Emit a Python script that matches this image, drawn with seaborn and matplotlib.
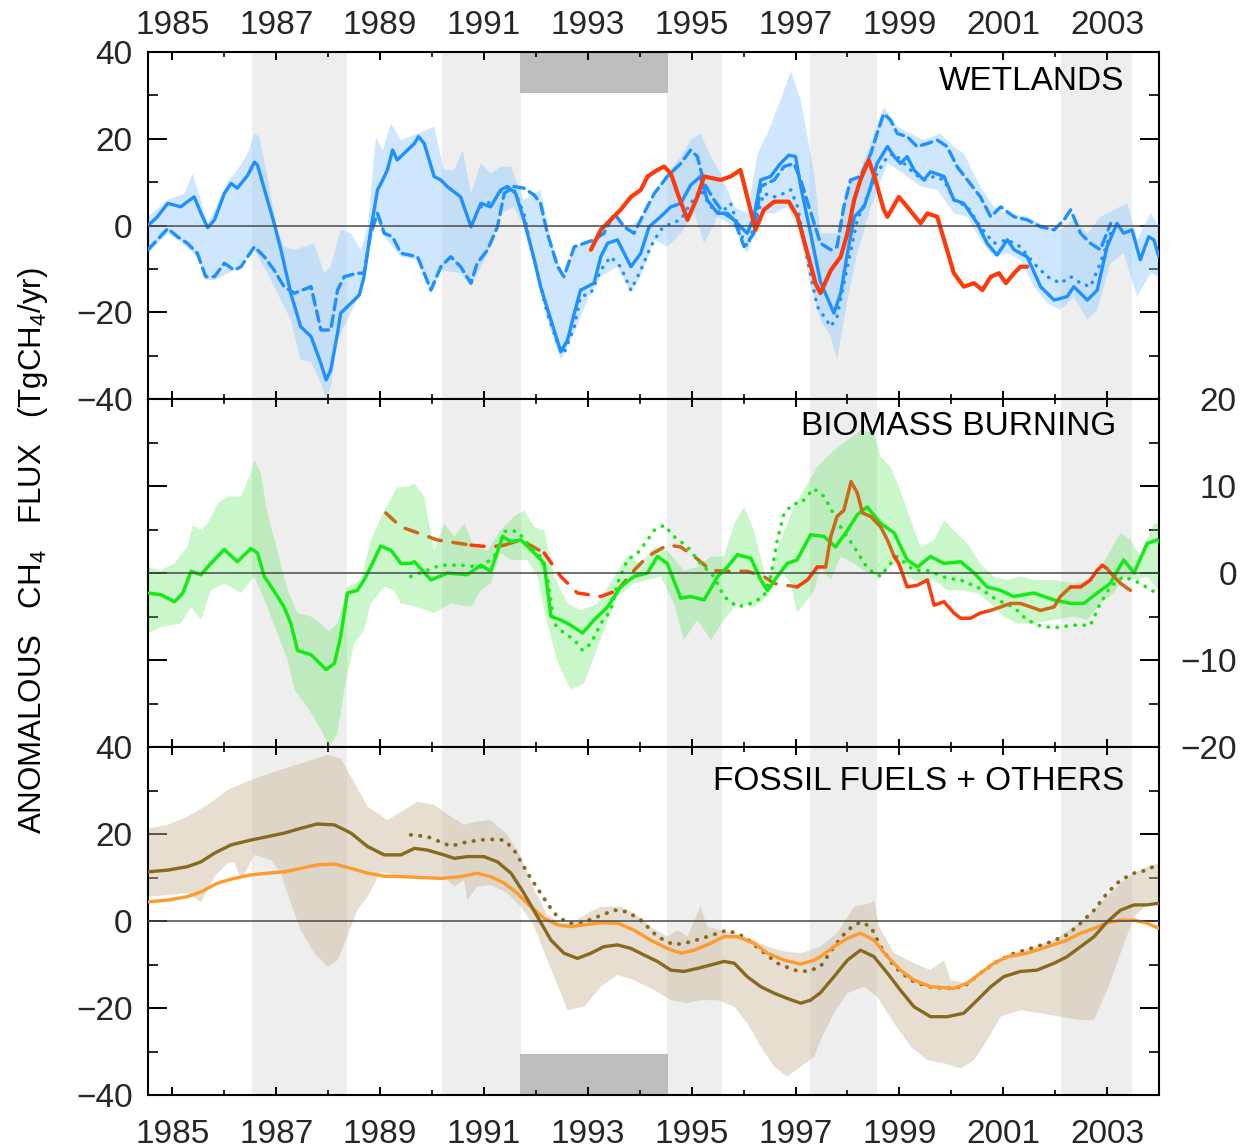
import numpy as np
import pandas as pd
import matplotlib
matplotlib.use("Agg")
import matplotlib.pyplot as plt
from matplotlib.ticker import FixedLocator, FuncFormatter
import seaborn as sns

# ---------------- WETLANDS (TgCH4/yr) ----------------
wet_solid_x = [1984.53, 1984.71, 1984.91, 1985.04, 1985.16, 1985.29, 1985.42, 1985.55, 1985.68, 1985.81,
               1986.00, 1986.13, 1986.25, 1986.45, 1986.58, 1986.64, 1986.83, 1986.96, 1987.09, 1987.28,
               1987.47, 1987.67, 1987.86, 1987.96, 1988.05, 1988.18, 1988.24, 1988.44, 1988.60, 1988.69,
               1988.82, 1988.95, 1989.05, 1989.14, 1989.24, 1989.33, 1989.46, 1989.66, 1989.74, 1989.85,
               1990.04, 1990.17, 1990.30, 1990.55, 1990.75, 1990.94, 1991.13, 1991.32, 1991.45, 1991.61,
               1991.77, 1991.97, 1992.09, 1992.29, 1992.48, 1992.61, 1992.74, 1992.86, 1992.99, 1993.12,
               1993.25, 1993.38, 1993.57, 1993.83, 1994.02, 1994.18, 1994.40, 1994.60, 1994.79, 1994.98,
               1995.17, 1995.30, 1995.50, 1995.69, 1995.88, 1996.07, 1996.20, 1996.33, 1996.52, 1996.71,
               1996.87, 1997.00, 1997.10, 1997.29, 1997.48, 1997.74, 1997.87, 1998.00, 1998.13, 1998.32,
               1998.45, 1998.57, 1998.77, 1998.90, 1999.02, 1999.15, 1999.28, 1999.47, 1999.60, 1999.86,
               2000.05, 2000.24, 2000.50, 2000.69, 2000.88, 2001.08, 2001.21, 2001.46, 2001.72, 2001.98,
               2002.23, 2002.36, 2002.62, 2002.81, 2003.00, 2003.19, 2003.32, 2003.48, 2003.64, 2003.80,
               2003.90, 2004.00]
wet_solid_y = [0.0, 2.0, 5.1, 4.7, 4.3, 5.5, 6.6, 2.8, -0.5, 1.3,
               7.4, 9.7, 8.6, 11.6, 14.6, 13.9, 5.9, 0.5, -5.6, -15.6,
               -23.3, -25.6, -31.8, -35.6, -33.3, -24.8, -20.2, -17.9, -16.0, -11.8,
               -1.0, 8.2, 10.5, 12.8, 17.4, 15.1, 16.6, 18.9, 20.5, 18.9,
               11.3, 10.5, 8.9, 6.6, -0.3, 5.1, 4.3, 8.2, 9.0, 7.4,
               1.3, -7.9, -14.1, -21.8, -29.1, -26.4, -20.2, -14.9, -14.1, -13.3,
               -7.2, -4.1, -3.3, -9.5, -6.4, -0.3, 2.0, 4.3, 5.1, 9.3,
               11.3, 5.9, 2.8, 2.8, 0.5, -1.8, 2.0, 10.5, 11.3, 14.3,
               16.2, 15.9, 9.0, -1.8, -13.0, -20.2, -15.6, -6.4, 2.0, 4.3,
               9.0, 14.3, 18.2, 15.9, 14.3, 15.9, 12.8, 10.5, 12.4, 11.3,
               5.9, 5.1, 0.5, -4.1, -6.8, -3.3, -5.6, -7.2, -14.1, -17.2,
               -16.4, -14.1, -17.2, -14.9, -4.9, 0.5, -1.8, -1.0, -7.9, -2.6,
               -3.3, -7.2]

wet_dash_x = [1984.53, 1984.71, 1984.91, 1985.10, 1985.29, 1985.48, 1985.64, 1985.81, 1986.00, 1986.19,
              1986.32, 1986.58, 1986.77, 1986.96, 1987.15, 1987.35, 1987.67, 1987.86, 1988.05, 1988.18,
              1988.31, 1988.56, 1988.69, 1988.82, 1988.95, 1989.08, 1989.24, 1989.40, 1989.72, 1989.98,
              1990.17, 1990.36, 1990.55, 1990.75, 1990.87, 1991.07, 1991.26, 1991.39, 1991.58, 1991.77,
              1991.97, 1992.09, 1992.22, 1992.42, 1992.54, 1992.74, 1992.93, 1993.12, 1993.31, 1993.51,
              1993.70, 1993.89, 1994.08, 1994.28, 1994.53, 1994.79, 1994.98, 1995.11, 1995.24, 1995.43,
              1995.62, 1995.82, 1996.01, 1996.20, 1996.33, 1996.59, 1996.78, 1996.97, 1997.10, 1997.26,
              1997.48, 1997.68, 1997.80, 1997.93, 1998.06, 1998.25, 1998.45, 1998.57, 1998.70, 1998.83,
              1998.96, 1999.15, 1999.34, 1999.54, 1999.73, 1999.92, 2000.11, 2000.31, 2000.56, 2000.76,
              2000.95, 2001.21, 2001.46, 2001.72, 2001.98, 2002.17, 2002.30, 2002.49, 2002.68, 2002.87,
              2003.07]
wet_dash_y = [-5.6, -3.3, -0.7, -2.6, -4.1, -6.4, -11.8, -11.8, -8.7, -10.3,
              -9.5, -4.9, -7.2, -10.3, -14.1, -15.6, -14.1, -24.1, -24.1, -14.9,
              -11.8, -11.0, -11.0, -1.8, 2.8, -1.8, -2.6, -6.4, -7.2, -14.9,
              -9.5, -7.2, -9.5, -13.3, -8.7, -5.6, -0.3, 7.4, 9.0, 8.6,
              7.0, 5.1, -1.8, -9.5, -11.8, -4.9, -4.1, -3.3, -1.8, 2.8,
              -0.3, -1.8, 2.8, 7.4, 11.3, 14.3, 17.4, 15.9, 9.7, 5.9,
              2.8, 1.3, -4.9, -1.8, 9.0, 10.5, 13.6, 14.3, 10.5, 4.3,
              -4.1, -5.6, -4.9, 4.3, 10.5, 11.3, 16.6, 21.2, 25.8, 24.3,
              21.2, 20.5, 18.2, 18.9, 19.7, 18.2, 13.6, 10.5, 6.6, 2.0,
              4.3, 2.0, 1.3, -0.3, -1.0, 1.3, 3.6, -1.8, -4.1, -5.6,
              0.5]

wet_dot_x = [1990.94, 1991.20, 1991.39, 1991.58, 1991.77, 1991.90, 1992.03, 1992.22, 1992.42, 1992.54,
             1992.74, 1992.86, 1993.06, 1993.25, 1993.44, 1993.63, 1993.83, 1994.02, 1994.21, 1994.40,
             1994.60, 1994.79, 1994.98, 1995.17, 1995.37, 1995.56, 1995.75, 1995.94, 1996.07, 1996.20,
             1996.39, 1996.59, 1996.78, 1996.91, 1997.04, 1997.23, 1997.42, 1997.68, 1997.80, 1998.00,
             1998.19, 1998.38, 1998.57, 1998.77, 1998.90, 1999.09, 1999.28, 1999.47, 1999.67, 1999.86,
             2000.05, 2000.31, 2000.56, 2000.82, 2001.08, 2001.33, 2001.59, 2001.85, 2002.10, 2002.30,
             2002.49, 2002.68, 2002.87, 2003.07]
wet_dot_y = [4.3, 5.9, 9.0, 8.2, 2.8, -4.9, -11.0, -20.2, -27.2, -29.5,
             -23.3, -16.4, -15.6, -10.3, -7.2, -9.5, -14.9, -10.3, -4.9, -1.0,
             0.5, 1.3, 5.1, 8.2, 4.3, 2.8, 5.1, -1.8, -4.9, -0.3,
             7.4, 6.6, 7.4, 8.2, 4.3, -7.9, -18.7, -23.3, -21.0, -9.5,
             1.3, 6.6, 12.0, 15.9, 16.6, 14.3, 12.0, 10.5, 11.3, 10.5,
             5.9, 4.3, -0.3, -4.1, -3.3, -4.9, -8.7, -11.8, -13.3, -11.8,
             -13.3, -14.1, -8.7, -1.8]

wet_obs_x = [1993.06, 1993.25, 1993.44, 1993.63, 1993.83, 1994.02, 1994.15, 1994.34, 1994.47, 1994.60,
             1994.73, 1994.92, 1995.11, 1995.24, 1995.56, 1995.75, 1995.94, 1996.07, 1996.23, 1996.39,
             1996.59, 1996.87, 1997.04, 1997.23, 1997.39, 1997.48, 1997.68, 1997.87, 1998.00, 1998.13,
             1998.25, 1998.41, 1998.54, 1998.70, 1998.77, 1998.99, 1999.15, 1999.41, 1999.54, 1999.73,
             1999.86, 2000.05, 2000.24, 2000.44, 2000.60, 2000.76, 2000.92, 2001.05, 2001.21, 2001.33,
             2001.46]
wet_obs_y = [-5.6, -1.0, 1.3, 3.6, 6.6, 8.2, 11.3, 12.8, 13.6, 12.0,
             7.4, 1.3, 6.6, 11.3, 10.5, 11.3, 12.8, 6.6, -1.0, 3.6,
             5.5, 5.5, 2.0, -6.4, -13.5, -15.6, -10.3, -7.2, -1.8, 5.9,
             10.5, 15.1, 10.5, 3.6, 2.0, 6.6, 4.3, 0.5, 2.8, 2.0,
             -3.3, -11.0, -14.1, -13.3, -14.9, -11.8, -11.0, -13.3, -11.0, -9.5,
             -9.5]

wet_hi_x = [1984.53, 1984.91, 1985.23, 1985.39, 1985.55, 1985.68, 1985.87, 1986.06, 1986.25, 1986.45,
            1986.58, 1986.67, 1986.83, 1987.02, 1987.15, 1987.35, 1987.54, 1987.73, 1987.92, 1988.05,
            1988.24, 1988.44, 1988.63, 1988.76, 1988.92, 1989.05, 1989.21, 1989.40, 1989.72, 1990.04,
            1990.23, 1990.43, 1990.59, 1990.75, 1990.94, 1991.13, 1991.32, 1991.52, 1991.77, 1991.97,
            1992.09, 1992.29, 1992.54, 1992.74, 1992.99, 1993.25, 1993.51, 1993.76, 1994.02, 1994.28,
            1994.53, 1994.79, 1994.98, 1995.17, 1995.37, 1995.56, 1995.82, 1996.07, 1996.27, 1996.46,
            1996.71, 1996.91, 1997.10, 1997.36, 1997.48, 1997.80, 1998.00, 1998.19, 1998.45, 1998.70,
            1998.96, 1999.22, 1999.47, 1999.79, 2000.05, 2000.24, 2000.56, 2000.82, 2001.08, 2001.46,
            2001.85, 2002.10, 2002.36, 2002.62, 2002.87, 2003.13, 2003.39, 2003.58, 2003.84, 2004.00]
wet_hi_y = [2.0, 5.9, 7.4, 12.0, 5.9, 0.5, 5.1, 10.1, 12.8, 16.6,
            21.2, 20.5, 11.3, -1.0, -4.9, -5.6, -4.9, -4.1, -11.0, -9.5,
            -1.0, -1.8, -5.6, -0.3, 20.5, 17.4, 23.5, 19.7, 21.2, 22.8,
            12.8, 12.8, 17.4, 7.4, 14.3, 12.0, 13.6, 13.6, 5.9, 7.4,
            8.2, -3.3, -11.8, -4.9, -4.1, -1.8, 2.8, -0.3, 1.3, 7.4,
            12.0, 15.9, 19.7, 21.2, 15.9, 12.0, 4.3, 2.8, 16.6, 21.2,
            28.9, 35.5, 28.9, 12.0, -1.8, -1.8, 9.0, 11.3, 18.9, 27.4,
            22.8, 21.2, 19.7, 21.2, 18.2, 16.6, 9.0, 4.3, 2.8, 2.0,
            -0.3, -1.0, 1.3, -1.8, 2.0, 3.6, 5.1, -3.3, 2.8, -0.3]

wet_lo_x = [1984.53, 1984.91, 1985.10, 1985.48, 1985.64, 1985.81, 1986.19, 1986.58, 1986.83, 1987.09,
            1987.28, 1987.47, 1987.67, 1987.86, 1987.96, 1988.05, 1988.18, 1988.37, 1988.56, 1988.69,
            1988.82, 1988.95, 1989.08, 1989.40, 1989.72, 1989.98, 1990.17, 1990.55, 1990.75, 1991.07,
            1991.32, 1991.58, 1991.77, 1991.97, 1992.22, 1992.48, 1992.74, 1992.99, 1993.25, 1993.57,
            1993.83, 1994.02, 1994.28, 1994.53, 1994.79, 1995.05, 1995.24, 1995.50, 1995.82, 1996.07,
            1996.33, 1996.59, 1996.84, 1997.04, 1997.29, 1997.48, 1997.68, 1997.80, 1998.00, 1998.19,
            1998.45, 1998.77, 1998.90, 1999.15, 1999.41, 1999.73, 2000.05, 2000.31, 2000.56, 2000.82,
            2001.08, 2001.33, 2001.59, 2001.85, 2002.10, 2002.36, 2002.62, 2002.81, 2003.07, 2003.32,
            2003.58, 2003.84, 2004.00]
wet_lo_y = [-6.4, -1.8, -3.3, -7.2, -12.6, -12.6, -10.3, -5.6, -11.0, -17.2,
            -21.8, -31.0, -31.4, -36.4, -39.8, -37.1, -26.4, -21.8, -17.2, -13.3,
            -3.3, 1.3, -2.6, -7.2, -7.9, -15.6, -10.3, -11.0, -14.1, -6.4,
            2.8, 4.3, -0.3, -9.5, -21.8, -31.0, -24.8, -17.2, -11.8, -9.5,
            -15.6, -11.8, -3.3, -4.9, -1.8, 2.8, -4.1, 2.0, -0.3, -6.4,
            2.8, 2.8, 4.3, -0.3, -13.3, -21.8, -25.6, -31.0, -17.2, -6.4,
            4.3, 14.3, 13.5, 11.3, 9.0, 8.2, 2.8, 2.0, -3.3, -7.2,
            -6.4, -7.9, -14.1, -18.0, -19.5, -16.4, -21.8, -19.5, -8.7, -6.4,
            -16.4, -11.0, -11.8]

# ---------------- BIOMASS BURNING (TgCH4/yr) ----------------
bb_solid_x = [1984.53, 1984.78, 1985.04, 1985.20, 1985.36, 1985.55, 1985.74, 1986.00, 1986.25, 1986.51,
              1986.64, 1986.77, 1986.96, 1987.15, 1987.28, 1987.41, 1987.67, 1987.96, 1988.12, 1988.24,
              1988.37, 1988.56, 1988.69, 1988.82, 1989.01, 1989.21, 1989.40, 1989.59, 1989.66, 1989.98,
              1990.30, 1990.68, 1990.94, 1991.13, 1991.36, 1991.52, 1991.71, 1991.97, 1992.16, 1992.29,
              1992.48, 1992.67, 1992.90, 1993.12, 1993.38, 1993.63, 1993.89, 1994.15, 1994.34, 1994.53,
              1994.79, 1994.98, 1995.24, 1995.50, 1995.69, 1995.88, 1996.14, 1996.33, 1996.46, 1996.65,
              1996.84, 1997.03, 1997.29, 1997.55, 1997.77, 1998.00, 1998.19, 1998.38, 1998.64, 1998.90,
              1999.15, 1999.35, 1999.60, 1999.86, 2000.18, 2000.44, 2000.69, 2000.95, 2001.20, 2001.59,
              2001.98, 2002.30, 2002.55, 2002.81, 2003.06, 2003.32, 2003.52, 2003.77, 2003.96, 2004.00]
bb_solid_y = [-2.3, -2.5, -3.3, -2.3, 0.2, -0.2, 1.1, 2.7, 1.3, 2.8,
              2.3, -0.4, -2.1, -3.9, -5.8, -8.9, -9.4, -11.1, -10.4, -7.3,
              -2.3, -2.0, -0.8, 0.7, 3.1, 2.6, 1.1, 1.1, 1.3, -0.8,
              0.0, -0.2, 0.9, 0.2, 4.2, 3.6, 3.8, 2.3, 1.1, -5.0,
              -5.4, -6.0, -6.9, -5.4, -3.9, -1.6, -0.4, 0.0, 1.9, 1.1,
              -2.9, -2.7, -3.1, -0.4, 0.7, 2.1, 1.7, -0.8, -2.0, -0.4,
              1.1, 1.5, 4.4, 4.2, 3.0, 4.9, 6.7, 7.6, 5.7, 4.6,
              1.5, 0.7, 1.9, 1.1, 1.3, 0.0, -1.6, -2.0, -2.7, -2.3,
              -3.1, -3.5, -3.5, -2.3, -1.2, 1.5, 0.0, 3.4, 3.8, 3.6]

bb_dot_x = [1989.59, 1990.17, 1990.55, 1990.94, 1991.20, 1991.39, 1991.64, 1991.90, 1992.09, 1992.22,
            1992.35, 1992.54, 1992.74, 1992.90, 1993.06, 1993.25, 1993.44, 1993.57, 1993.76, 1993.96,
            1994.15, 1994.28, 1994.47, 1994.66, 1994.92, 1995.17, 1995.43, 1995.62, 1995.88, 1996.14,
            1996.39, 1996.52, 1996.65, 1996.78, 1996.97, 1997.10, 1997.35, 1997.55, 1997.87, 1998.13,
            1998.32, 1998.50, 1998.64, 1998.77, 1998.96, 1999.28, 1999.54, 1999.92, 2000.18, 2000.56,
            2000.88, 2001.20, 2001.46, 2001.72, 2001.98, 2002.36, 2002.68, 2002.87, 2003.06, 2003.32,
            2003.64, 2004.00]
bb_dot_y = [-0.4, 0.9, 0.9, 0.7, 1.9, 4.8, 4.8, 3.0, 1.9, -0.4,
            -5.8, -6.9, -7.7, -8.9, -8.1, -5.8, -4.3, -1.2, 1.5, 2.3,
            3.8, 4.9, 5.5, 4.2, 3.0, 1.1, -0.4, -2.7, -3.9, -3.5,
            -2.7, -0.4, 3.8, 6.9, 8.0, 8.0, 9.7, 8.8, 5.3, 3.0,
            1.1, 0.0, -0.4, 0.7, 1.9, 0.3, 0.3, -0.6, -0.8, -1.8,
            -3.1, -3.9, -5.4, -6.1, -6.3, -6.0, -6.0, -3.5, -1.6, -0.4,
            -1.2, -2.5]

bb_inv_x = [1989.11, 1989.40, 1989.59, 1990.10, 1990.75, 1991.13, 1991.39, 1991.71, 1992.16, 1992.48,
            1992.80, 1993.25, 1993.57, 1993.89, 1994.15, 1994.53, 1994.79, 1995.05, 1995.37, 1995.69,
            1996.07, 1996.39, 1996.59, 1997.03]
bb_inv_y = [6.9, 5.3, 4.9, 3.8, 3.2, 3.0, 3.2, 3.8, 2.3, -0.4,
            -2.3, -2.7, -2.0, 0.3, 1.9, 3.2, 3.0, 1.9, 0.3, 0.2,
            0.2, -0.4, -1.2, -1.6]

bb_obs_x = [1997.03, 1997.23, 1997.42, 1997.58, 1997.68, 1997.80, 1997.93, 1998.07, 1998.19, 1998.29,
            1998.45, 1998.64, 1998.77, 1998.90, 1998.99, 1999.15, 1999.35, 1999.54, 1999.67, 1999.86,
            2000.05, 2000.18, 2000.37, 2000.56, 2000.76, 2000.95, 2001.14, 2001.33, 2001.53, 2001.72,
            2001.98, 2002.10, 2002.30, 2002.49, 2002.68, 2002.81, 2002.91, 2003.00, 2003.13, 2003.26,
            2003.45]
bb_obs_y = [-1.6, -0.8, 0.7, 0.7, 4.2, 6.5, 7.2, 10.5, 9.2, 6.9,
            6.5, 5.3, 3.8, 1.9, 1.1, -1.6, -1.4, -0.8, -3.7, -3.3,
            -4.6, -5.2, -5.2, -4.6, -4.3, -3.9, -3.5, -3.5, -3.9, -4.3,
            -3.9, -2.7, -1.6, -1.6, -0.8, 0.3, 0.9, 0.5, -0.4, -1.2,
            -2.0]

bb_hi_x = [1984.53, 1984.78, 1985.04, 1985.29, 1985.39, 1985.55, 1985.68, 1985.87, 1986.06, 1986.32,
           1986.51, 1986.58, 1986.70, 1986.83, 1987.02, 1987.22, 1987.41, 1987.67, 1987.86, 1988.02,
           1988.18, 1988.37, 1988.63, 1988.82, 1989.08, 1989.33, 1989.53, 1989.66, 1989.85, 1990.04,
           1990.23, 1990.43, 1990.62, 1990.81, 1991.07, 1991.32, 1991.58, 1991.77, 1991.97, 1992.16,
           1992.35, 1992.61, 1992.86, 1993.19, 1993.51, 1993.76, 1994.02, 1994.28, 1994.53, 1994.85,
           1995.11, 1995.37, 1995.62, 1995.82, 1996.01, 1996.20, 1996.46, 1996.71, 1996.97, 1997.23,
           1997.42, 1997.74, 1998.00, 1998.25, 1998.51, 1998.64, 1998.83, 1999.02, 1999.22, 1999.41,
           1999.67, 1999.86, 2000.05, 2000.31, 2000.56, 2000.82, 2001.08, 2001.33, 2001.59, 2001.98,
           2002.36, 2002.75, 2003.00, 2003.26, 2003.45, 2003.64, 2003.90, 2004.00]
bb_hi_y = [0.7, 0.3, 1.1, 3.0, 5.5, 4.9, 5.7, 8.0, 8.8, 8.8,
           11.5, 13.0, 11.5, 6.9, 2.6, -2.0, -4.6, -5.0, -5.8, -6.7,
           -5.8, -1.6, -0.8, 3.8, 7.2, 9.9, 9.9, 10.3, 8.8, 2.6,
           5.7, 4.2, 5.7, 3.0, 2.6, 4.9, 6.5, 7.2, 5.3, 4.9,
           -0.4, -3.5, -4.3, -3.5, -0.4, 1.9, 1.1, 3.0, 2.6, 0.3,
           0.7, 1.9, 1.9, 5.7, 7.6, 4.9, -1.2, 3.8, 7.6, 10.3,
           12.2, 14.1, 15.3, 16.4, 16.1, 13.4, 12.2, 9.5, 6.1, 3.0,
           3.8, 6.1, 4.9, 3.4, 1.1, -0.4, -0.8, -0.4, -0.8, -0.8,
           -1.2, -0.8, 1.9, 4.6, 3.8, 1.9, 5.7, 5.7]

bb_lo_x = [1984.53, 1984.78, 1985.16, 1985.36, 1985.55, 1985.74, 1986.00, 1986.32, 1986.58, 1986.83,
           1987.02, 1987.22, 1987.35, 1987.60, 1987.86, 1988.02, 1988.18, 1988.31, 1988.50, 1988.69,
           1988.82, 1989.08, 1989.27, 1989.40, 1989.72, 1990.04, 1990.36, 1990.75, 1990.94, 1991.13,
           1991.32, 1991.52, 1991.84, 1992.03, 1992.22, 1992.42, 1992.67, 1992.93, 1993.12, 1993.31,
           1993.57, 1993.89, 1994.15, 1994.40, 1994.66, 1994.85, 1995.11, 1995.37, 1995.62, 1995.88,
           1996.20, 1996.46, 1996.71, 1996.91, 1997.03, 1997.36, 1997.48, 1997.68, 1997.87, 1998.13,
           1998.38, 1998.64, 1998.90, 1999.15, 1999.41, 1999.67, 1999.92, 2000.18, 2000.50, 2000.76,
           2001.01, 2001.27, 2001.59, 2001.98, 2002.36, 2002.62, 2002.87, 2003.13, 2003.32, 2003.58,
           2003.77, 2004.00]
bb_lo_y = [-6.9, -6.2, -5.8, -3.9, -5.4, -2.0, -1.2, -2.3, -0.4, -3.9,
           -6.9, -10.0, -13.4, -15.4, -18.0, -20.0, -18.4, -13.4, -8.1, -6.6,
           -3.5, -1.6, -2.0, -3.5, -3.9, -4.6, -3.5, -3.9, -2.0, -1.2,
           2.3, 1.5, 1.5, -0.4, -5.8, -10.3, -13.4, -12.7, -9.6, -6.6,
           -2.7, -1.2, -0.8, -0.4, -3.5, -7.7, -5.4, -7.7, -5.4, -3.5,
           -3.9, -2.7, 0.3, -1.2, -4.6, -2.0, 0.7, -0.8, 1.9, 1.1,
           0.0, -0.4, 1.1, -0.4, -1.2, -0.8, -2.0, -2.0, -2.3, -3.5,
           -5.0, -5.8, -5.8, -5.4, -5.0, -5.4, -3.5, -2.3, -0.4, -0.8,
           -0.4, -2.0]

# ---------------- FOSSIL FUELS + OTHERS (TgCH4/yr) ----------------
ff_solid_x = [1984.53, 1984.91, 1985.29, 1985.55, 1985.81, 1986.13, 1986.51, 1986.83, 1987.15, 1987.47,
              1987.79, 1988.12, 1988.44, 1988.76, 1989.08, 1989.40, 1989.66, 1989.91, 1990.23, 1990.43,
              1990.68, 1991.00, 1991.26, 1991.52, 1991.77, 1992.03, 1992.29, 1992.54, 1992.80, 1993.06,
              1993.31, 1993.57, 1993.83, 1994.08, 1994.34, 1994.60, 1994.85, 1995.11, 1995.37, 1995.62,
              1995.82, 1996.07, 1996.33, 1996.59, 1996.84, 1997.10, 1997.29, 1997.48, 1997.74, 1998.00,
              1998.25, 1998.51, 1998.77, 1999.02, 1999.28, 1999.60, 1999.92, 2000.24, 2000.50, 2000.76,
              2001.01, 2001.33, 2001.65, 2001.98, 2002.23, 2002.49, 2002.75, 2003.00, 2003.26, 2003.52,
              2003.77, 2004.00]
ff_solid_y = [11.3, 11.7, 12.5, 13.6, 15.6, 17.5, 18.6, 19.4, 20.2, 21.3,
              22.3, 22.1, 20.2, 17.1, 15.2, 15.2, 16.7, 16.3, 15.2, 14.4,
              14.8, 14.8, 13.6, 11.0, 6.4, 1.0, -4.4, -7.4, -8.6, -7.4,
              -5.9, -5.5, -6.3, -7.8, -9.3, -11.3, -11.6, -10.9, -10.1, -9.3,
              -9.7, -12.8, -15.1, -16.6, -17.8, -18.9, -18.2, -16.5, -12.8, -9.0,
              -6.7, -8.2, -12.0, -15.9, -19.7, -22.0, -22.0, -21.2, -18.2, -15.1,
              -12.8, -11.6, -11.3, -9.7, -8.2, -5.9, -3.6, -0.2, 2.5, 3.7,
              3.7, 4.1]

ff_orange_x = [1984.53, 1984.91, 1985.29, 1985.55, 1985.87, 1986.19, 1986.51, 1986.83, 1987.15, 1987.47,
               1987.79, 1988.12, 1988.44, 1988.76, 1989.08, 1989.40, 1989.78, 1990.17, 1990.55, 1990.87,
               1991.13, 1991.39, 1991.64, 1991.90, 1992.16, 1992.42, 1992.67, 1992.93, 1993.25, 1993.57,
               1993.89, 1994.21, 1994.53, 1994.79, 1995.05, 1995.37, 1995.62, 1995.88, 1996.20, 1996.46,
               1996.78, 1997.10, 1997.36, 1997.48, 1997.74, 1998.00, 1998.25, 1998.51, 1998.77, 1999.02,
               1999.28, 1999.60, 2000.05, 2000.31, 2000.56, 2000.82, 2001.08, 2001.46, 2001.85, 2002.23,
               2002.49, 2002.75, 2003.00, 2003.26, 2003.52, 2003.77, 2004.00]
ff_orange_y = [4.4, 4.8, 5.6, 6.7, 8.7, 9.8, 10.6, 11.0, 11.3, 12.1,
               12.9, 13.1, 12.1, 11.0, 10.3, 10.2, 10.0, 9.8, 10.2, 11.0,
               10.2, 8.7, 6.4, 3.3, 0.6, -0.9, -1.3, -0.9, -0.4, -0.5,
               -2.1, -4.4, -6.3, -7.4, -6.7, -5.1, -3.6, -3.6, -5.1, -7.4,
               -9.0, -9.9, -9.0, -8.2, -5.9, -4.0, -2.8, -4.4, -8.2, -11.3,
               -13.6, -15.1, -15.5, -14.3, -12.0, -9.7, -8.2, -7.4, -5.9, -4.4,
               -2.8, -1.7, -0.4, 0.2, 0.2, -0.5, -1.7]

ff_dot_x = [1989.59, 1989.91, 1990.36, 1990.68, 1991.07, 1991.39, 1991.58, 1991.84, 1992.09, 1992.35,
            1992.61, 1992.86, 1993.19, 1993.51, 1993.76, 1994.02, 1994.34, 1994.66, 1994.98, 1995.30,
            1995.69, 1996.01, 1996.33, 1996.65, 1996.97, 1997.23, 1997.48, 1997.74, 1998.00, 1998.25,
            1998.45, 1998.64, 1998.90, 1999.22, 1999.54, 1999.92, 2000.24, 2000.56, 2000.88, 2001.21,
            2001.53, 2001.85, 2002.23, 2002.49, 2002.75, 2003.00, 2003.26, 2003.52, 2003.77, 2004.00]
ff_dot_y = [19.8, 19.4, 17.2, 18.2, 18.8, 18.6, 16.3, 11.0, 6.4, 1.8,
            -0.5, -0.5, 1.0, 2.5, 2.1, 0.2, -3.6, -5.5, -4.8, -3.6,
            -2.1, -3.6, -6.7, -9.7, -11.3, -11.6, -10.5, -5.9, -2.1, -0.2,
            -1.3, -5.9, -10.5, -13.6, -15.1, -15.5, -15.1, -12.0, -9.3, -7.4,
            -6.3, -5.1, -3.2, -0.5, 2.5, 6.4, 9.4, 11.0, 11.7, 13.3]

ff_hi_x = [1984.53, 1984.91, 1985.29, 1985.68, 1986.06, 1986.51, 1986.96, 1987.47, 1987.99, 1988.24,
           1988.44, 1988.76, 1989.14, 1989.40, 1989.72, 1990.04, 1990.36, 1990.62, 1990.81, 1991.13,
           1991.45, 1991.71, 1991.97, 1992.22, 1992.48, 1992.74, 1992.99, 1993.25, 1993.63, 1993.89,
           1994.21, 1994.53, 1994.73, 1994.92, 1995.17, 1995.30, 1995.56, 1995.82, 1996.20, 1996.46,
           1996.78, 1997.10, 1997.48, 1997.80, 1998.13, 1998.45, 1998.51, 1998.61, 1998.90, 1999.28,
           1999.60, 1999.86, 1999.99, 2000.31, 2000.56, 2000.88, 2001.21, 2001.59, 2001.98, 2002.36,
           2002.62, 2002.94, 2003.26, 2003.52, 2003.77, 2004.00]
ff_hi_y = [21.3, 22.1, 24.0, 26.7, 30.1, 32.4, 34.3, 36.2, 38.2, 37.4,
           33.2, 26.3, 23.2, 25.1, 27.4, 26.7, 24.0, 22.1, 22.8, 23.2,
           19.8, 14.8, 7.1, 1.4, -0.5, -0.2, 1.8, 3.3, 3.3, 1.8,
           -1.3, -3.6, -2.1, -3.6, 3.3, -1.3, -2.1, -2.8, -4.4, -5.9,
           -7.0, -7.4, -5.9, -2.8, 3.3, 4.1, 4.8, -1.3, -7.4, -9.7,
           -11.3, -9.0, -13.6, -14.3, -12.0, -9.0, -7.4, -5.9, -4.4, -1.3,
           1.0, 4.8, 8.7, 11.0, 12.5, 13.3]

ff_lo_x = [1984.53, 1985.29, 1985.55, 1985.81, 1986.06, 1986.19, 1986.32, 1986.58, 1986.90, 1987.09,
           1987.28, 1987.47, 1987.73, 1987.99, 1988.18, 1988.37, 1988.56, 1988.76, 1989.01, 1989.40,
           1989.78, 1990.30, 1990.43, 1990.62, 1990.68, 1990.87, 1991.13, 1991.45, 1991.71, 1991.97,
           1992.22, 1992.48, 1992.61, 1992.93, 1993.25, 1993.57, 1993.89, 1994.28, 1994.60, 1994.92,
           1995.17, 1995.50, 1995.82, 1996.07, 1996.33, 1996.59, 1996.84, 1997.10, 1997.36, 1997.48,
           1997.74, 1998.00, 1998.32, 1998.57, 1998.90, 1999.22, 1999.54, 1999.86, 2000.18, 2000.44,
           2000.69, 2000.95, 2001.33, 2001.72, 2002.10, 2002.49, 2002.75, 2003.00, 2003.26, 2003.52,
           2003.77, 2004.00]
ff_lo_y = [5.6, 6.4, 4.4, 10.2, 13.3, 13.6, 9.4, 15.2, 14.0, 11.0,
           4.1, -2.1, -7.4, -10.5, -9.0, -3.6, 2.5, 5.6, 11.3, 10.2,
           10.2, 9.4, 7.9, 9.4, 4.8, 7.9, 8.3, 6.4, 3.3, -1.3,
           -9.0, -16.6, -20.5, -19.7, -15.1, -12.4, -13.6, -15.9, -18.2, -18.9,
           -18.2, -18.2, -19.7, -23.5, -28.9, -33.5, -35.8, -33.5, -31.2, -27.4,
           -21.2, -16.6, -15.1, -17.4, -23.5, -28.9, -32.0, -32.7, -33.9, -32.0,
           -27.4, -22.0, -20.5, -21.2, -22.0, -22.8, -22.8, -15.9, -7.4, 1.0,
           3.7, 4.1]

# Shaded periods (years) and the Pinatubo marker
enso_spans = [(1986.54, 1988.37), (1990.20, 1991.71), (1994.53, 1995.58),
              (1997.28, 1998.57), (2002.12, 2003.48)]
pinatubo_span = (1991.70, 1994.54)

panel_titles = ["WETLANDS", "BIOMASS BURNING", "FOSSIL FUELS + OTHERS"]
major_years = list(range(1985, 2004, 2))
minor_years = list(range(1986, 2004, 2))

# ---------------- styling ----------------
sns.set_theme(style="white")
plt.rcParams["font.family"] = ["Liberation Sans", "DejaVu Sans"]
plt.rcParams["mathtext.fontset"] = "custom"
plt.rcParams["mathtext.rm"] = "Liberation Sans"
plt.rcParams["axes.unicode_minus"] = True

BLUE = "#1E90FF"
RED = "#FF3A0A"
BROWN = "#CC6A1A"
GREEN = "#14EA14"
OLIVE = "#876A1E"
ORANGE = "#FF9A2E"
TICK_FS = 24

W, H = 1244, 1148
fig = plt.figure(figsize=(W / 100, H / 100), dpi=100)
left_px, right_px = 148, 1159
edges = [52, 399, 747, 1095]
axes = []
for i in range(3):
    top, bot = edges[i], edges[i + 1]
    ax = fig.add_axes([left_px / W, 1 - bot / H, (right_px - left_px) / W, (bot - top) / H])
    axes.append(ax)
ax1, ax2, ax3 = axes


def draw_line(ax, xs, ys, color, lw, ls="-", z=3):
    df = pd.DataFrame({"year": xs, "flux": ys})
    sns.lineplot(data=df, x="year", y="flux", ax=ax, color=color, linewidth=lw,
                 linestyle=ls, estimator=None, sort=False, legend=False, zorder=z,
                 dash_capstyle="round", solid_capstyle="round", solid_joinstyle="round")


def draw_segments(ax, xs, ys, pieces, lw, ls="-"):
    xs = np.asarray(xs)
    ys = np.asarray(ys)
    for a, b, c in pieces:
        m = (xs >= a - 1e-6) & (xs <= b + 1e-6)
        draw_line(ax, xs[m], ys[m], c, lw, ls)


def envelope(ax, hx, hy, lx, ly, color, alpha):
    px = np.concatenate([np.asarray(hx), np.asarray(lx)[::-1]])
    py = np.concatenate([np.asarray(hy), np.asarray(ly)[::-1]])
    ax.fill(px, py, color=color, alpha=alpha, lw=0, zorder=1)


def base(ax, ylim):
    ax.set_xlim(1984.53, 2004.0)
    ax.set_ylim(*ylim)
    for a, b in enso_spans:
        ax.axvspan(a, b, color="#EEEEEE", lw=0, zorder=0)
    ax.axhline(0, color="#4a4a4a", lw=1.3, zorder=4, alpha=0.85)
    for s in ax.spines.values():
        s.set_linewidth(1.5)
        s.set_color("black")
        s.set_visible(True)
    ax.xaxis.set_major_locator(FixedLocator(major_years))
    ax.xaxis.set_minor_locator(FixedLocator(minor_years))
    ax.tick_params(axis="x", which="major", direction="in", length=6, width=1.4,
                   top=True, bottom=True, labeltop=False, labelbottom=False, labelsize=TICK_FS,
                   color="black")
    ax.tick_params(axis="x", which="minor", direction="in", length=3.5, width=1.2,
                   top=True, bottom=True, color="black")
    step = (ylim[1] - ylim[0]) / 8
    ax.yaxis.set_major_locator(FixedLocator(np.arange(ylim[0], ylim[1] + 0.1, 2 * step)))
    ax.yaxis.set_minor_locator(FixedLocator(np.arange(ylim[0] + step, ylim[1], 2 * step)))
    ax.tick_params(axis="y", which="major", direction="in", length=14, width=1.4,
                   left=True, right=True, labelsize=TICK_FS, color="black")
    ax.tick_params(axis="y", which="minor", direction="in", length=7, width=1.2,
                   left=True, right=True, color="black")
    ax.set_facecolor("white")


def every20(v, p):
    if abs(v % 20) > 1e-6:
        return ""
    return f"{v:.0f}".replace("-", "\u2212")


def every10(v, p):
    return f"{v:.0f}".replace("-", "\u2212")


# Panel 1: wetlands
base(ax1, (-40, 40))
ax1.axvspan(*pinatubo_span, ymin=(30.6 + 40) / 80, ymax=1, color="#BDBDBD", lw=0, zorder=0.5)
envelope(ax1, wet_hi_x, wet_hi_y, wet_lo_x, wet_lo_y, "#8CC8FF", 0.42)
draw_line(ax1, wet_dash_x, wet_dash_y, BLUE, 2.4, (0, (3.2, 1.8)))
draw_line(ax1, wet_dot_x, wet_dot_y, BLUE, 2.5, (0, (0.1, 2.4)))
draw_line(ax1, wet_solid_x, wet_solid_y, BLUE, 2.4)
draw_line(ax1, wet_obs_x, wet_obs_y, RED, 3.0)
ax1.yaxis.set_major_formatter(FuncFormatter(every20))
ax1.tick_params(axis="x", which="major", labeltop=True, pad=8)
ax1.tick_params(axis="y", which="major", labelleft=True, labelright=False, pad=11)

# Panel 2: biomass burning
base(ax2, (-20, 20))
envelope(ax2, bb_hi_x, bb_hi_y, bb_lo_x, bb_lo_y, "#4EE64E", 0.30)
draw_segments(ax2, bb_inv_x, bb_inv_y,
              [(1989.11, 1990.75, BROWN), (1990.75, 1991.39, RED), (1991.39, 1992.16, BROWN),
               (1992.16, 1993.57, RED), (1993.57, 1997.03, BROWN)],
              2.5, (0, (3.8, 3.4)))
draw_line(ax2, bb_dot_x, bb_dot_y, GREEN, 2.6, (0, (0.1, 2.4)))
draw_line(ax2, bb_solid_x, bb_solid_y, GREEN, 2.5)
draw_segments(ax2, bb_obs_x, bb_obs_y,
              [(1997.03, 1997.58, RED), (1997.58, 1998.90, BROWN), (1998.90, 2000.76, RED),
               (2000.76, 2002.30, BROWN), (2002.30, 2003.00, RED), (2003.00, 2003.45, BROWN)],
              2.5)
ax2.yaxis.set_major_formatter(FuncFormatter(every10))
ax2.tick_params(axis="y", which="major", labelleft=False, labelright=True, pad=56)
for t in ax2.yaxis.get_major_ticks():
    t.label2.set_horizontalalignment("right")

# Panel 3: fossil fuels + others
base(ax3, (-40, 40))
ax3.axvspan(*pinatubo_span, ymin=0, ymax=(40 - 30.6) / 80, color="#BDBDBD", lw=0, zorder=0.5)
envelope(ax3, ff_hi_x, ff_hi_y, ff_lo_x, ff_lo_y, "#C7B79A", 0.45)
draw_line(ax3, ff_dot_x, ff_dot_y, OLIVE, 2.8, (0, (0.1, 2.3)))
draw_line(ax3, ff_orange_x, ff_orange_y, ORANGE, 2.4)
draw_line(ax3, ff_solid_x, ff_solid_y, OLIVE, 2.4)
ax3.yaxis.set_major_formatter(FuncFormatter(every20))
ax3.tick_params(axis="x", which="major", labelbottom=True, pad=17)
ax3.tick_params(axis="y", which="major", labelleft=True, labelright=False, pad=11)

title_pos = [(0.966, 0.914), (0.958, 0.920), (0.966, 0.902)]
for ax, title, (tx, ty) in zip(axes, panel_titles, title_pos):
    ax.set_xlabel("")
    ax.set_ylabel("")
    ax.text(tx, ty, title, transform=ax.transAxes, ha="right", va="center",
            fontsize=24, color="black", zorder=6)

fig.text(33 / W, 1 - 551 / H,
         r"ANOMALOUS   CH$\mathregular{_4}$   FLUX   (TgCH$\mathregular{_4}$/yr)",
         rotation=90, ha="center", va="center", fontsize=22.5, color="black")

fig.savefig("out.png", dpi=100, facecolor="white")
